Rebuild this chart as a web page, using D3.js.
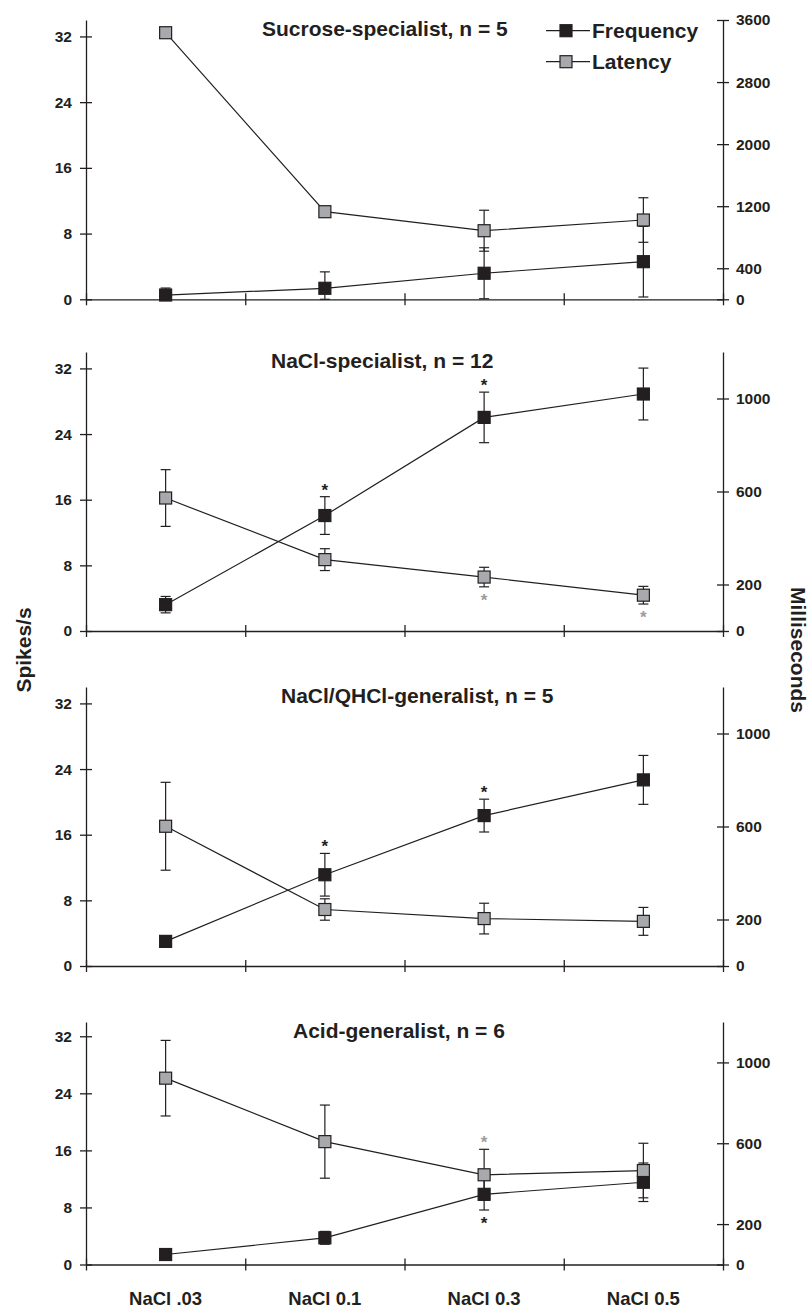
<!DOCTYPE html>
<html>
<head>
<meta charset="utf-8">
<script src="https://cdn.jsdelivr.net/npm/d3@7"></script>
<style>
  body { margin: 0; background: #fff; }
  text { font-family: "Liberation Sans", Arial, Helvetica, sans-serif; font-weight: bold; fill: #231f20; }
  .axis text { font-size: 15.5px; }
  .axis path, .axis line { stroke: #231f20; stroke-width: 1.3; }
</style>
</head>
<body>
<div id="chart"></div>
<script>
const categories = ["NaCl .03", "NaCl 0.1", "NaCl 0.3", "NaCl 0.5"];
const panelTitles = ["Sucrose-specialist, n = 5", "NaCl-specialist, n = 12", "NaCl/QHCl-generalist, n = 5", "Acid-generalist, n = 6"];

// spikes/s, mean and error per panel
const freqMean = [[0.52, 1.34, 3.17, 4.58], [3.21, 14.07, 26.03, 28.88], [3.0, 11.12, 18.33, 22.68], [1.4, 3.74, 9.84, 11.53]];
const freqErr  = [[0.85, 2.0, 3.1, 4.3], [1.0, 2.3, 3.08, 3.16], [0, 2.6, 2.0, 2.98], [0, 0.9, 2.2, 2.7]];
// milliseconds
const latMean = [[3436, 1129, 884, 1022], [572, 307, 232, 154], [601, 243, 204, 192], [922, 608, 444, 465]];
const latErr  = [[0, 0, 264, 287], [122, 47, 42, 38], [189, 46, 66, 60], [187, 181, 126, 135]];

// significance: 1 = star above bar, -1 = star below bar
const freqStar = [[0, 0, 0, 0], [0, 1, 1, 0], [0, 1, 1, 0], [0, 0, -1, 0]];
const latStar  = [[0, 0, 0, 0], [0, 0, -1, -1], [0, 0, 0, 0], [0, 0, 1, 0]];

const freqMax = 34;
const freqTicks = [0, 8, 16, 24, 32];
const latMax = [3600, 1200, 1200, 1200];
const latTicks = [[0, 400, 1200, 2000, 2800, 3600], [0, 200, 600, 1000], [0, 200, 600, 1000], [0, 200, 600, 1000]];

const seriesNames = ["Frequency", "Latency"];

const black = "#231f20";
const gray = "#a7a9ac";
const starGray = "#9c9c9c";

const svg = d3.select("#chart").append("svg")
  .attr("width", 810)
  .attr("height", 1307);

const plotLeft = 86, plotRight = 723;
const panelTops = [20, 352, 687, 1022];
const panelHeights = [279.3, 279, 279, 242.5];
const titleLeft = [262, 271, 281, 293];

const xBand = d3.scaleBand().domain(categories).range([plotLeft, plotRight]);
const xEdge = d3.scaleLinear().domain([0, categories.length]).range([plotLeft, plotRight]);
const cx = function (c) { return xBand(c) + xBand.bandwidth() / 2; };
const plain = d3.format("d");

panelTitles.forEach(function (title, p) {
  const top = panelTops[p];
  const bottom = top + panelHeights[p];
  const yFreq = d3.scaleLinear().domain([0, freqMax]).range([bottom, top]);
  const yLat = d3.scaleLinear().domain([0, latMax[p]]).range([bottom, top]);
  const g = svg.append("g");

  // axes
  const xAxisG = g.append("g")
    .attr("class", "axis")
    .attr("transform", "translate(0," + bottom + ")")
    .call(d3.axisBottom(xEdge).tickValues(d3.range(categories.length + 1)).tickFormat("").tickSize(6).tickSizeOuter(0));
  xAxisG.selectAll(".tick line").attr("y1", -6);

  const leftG = g.append("g")
    .attr("class", "axis")
    .attr("transform", "translate(" + plotLeft + ",0)")
    .call(d3.axisLeft(yFreq).tickValues(freqTicks).tickFormat(plain).tickSize(6).tickPadding(8).tickSizeOuter(0));
  leftG.selectAll(".tick line").attr("x1", 6);

  const rightG = g.append("g")
    .attr("class", "axis")
    .attr("transform", "translate(" + plotRight + ",0)")
    .call(d3.axisRight(yLat).tickValues(latTicks[p]).tickFormat(plain).tickSize(6).tickPadding(7).tickSizeOuter(0));
  rightG.selectAll(".tick line").attr("x1", -6);

  g.append("text")
    .attr("x", titleLeft[p])
    .attr("y", top + 15.5)
    .attr("font-size", "21px")
    .text(title);

  const series = [
    { means: freqMean[p], errs: freqErr[p], stars: freqStar[p], y: yFreq, fill: black, starColor: black },
    { means: latMean[p], errs: latErr[p], stars: latStar[p], y: yLat, fill: gray, starColor: starGray }
  ];

  series.forEach(function (s) {
    const pts = categories.map(function (c, i) {
      return { x: cx(c), m: s.means[i], e: s.errs[i], star: s.stars[i] };
    });
    const withErr = pts.filter(function (d) { return d.e > 0; });
    const eg = g.append("g").attr("stroke", black).attr("stroke-width", 1.2);
    eg.selectAll(".bar").data(withErr).enter().append("line")
      .attr("x1", function (d) { return d.x; })
      .attr("x2", function (d) { return d.x; })
      .attr("y1", function (d) { return s.y(Math.max(0, d.m - d.e)); })
      .attr("y2", function (d) { return s.y(d.m + d.e); });
    eg.selectAll(".capTop").data(withErr).enter().append("line")
      .attr("x1", function (d) { return d.x - 5; })
      .attr("x2", function (d) { return d.x + 5; })
      .attr("y1", function (d) { return s.y(d.m + d.e); })
      .attr("y2", function (d) { return s.y(d.m + d.e); });
    eg.selectAll(".capBot").data(withErr).enter().append("line")
      .attr("x1", function (d) { return d.x - 5; })
      .attr("x2", function (d) { return d.x + 5; })
      .attr("y1", function (d) { return s.y(Math.max(0, d.m - d.e)); })
      .attr("y2", function (d) { return s.y(Math.max(0, d.m - d.e)); });

    g.selectAll(".star").data(pts.filter(function (d) { return d.star !== 0; })).enter().append("text")
      .attr("x", function (d) { return d.x; })
      .attr("y", function (d) { return d.star > 0 ? s.y(d.m + d.e) - 1 : s.y(d.m - d.e) + 19; })
      .attr("text-anchor", "middle")
      .attr("font-size", "17px")
      .style("fill", s.starColor)
      .text("*");

    s.pts = pts;
  });

  const line = d3.line().x(function (d) { return d.x; }).y(function (d) { return d.py; });
  series.forEach(function (s) {
    s.pts.forEach(function (d) { d.py = s.y(d.m); });
    g.append("path")
      .attr("fill", "none")
      .attr("stroke", black)
      .attr("stroke-width", 1.2)
      .attr("d", line(s.pts));
  });

  series.forEach(function (s) {
    g.selectAll(".dot").data(s.pts).enter().append("rect")
      .attr("x", function (d) { return d.x - 6; })
      .attr("y", function (d) { return d.py - 6; })
      .attr("width", 12)
      .attr("height", 12)
      .attr("fill", s.fill)
      .attr("stroke", black)
      .attr("stroke-width", 1.2);
  });
});

// legend in first panel
const legend = svg.append("g")
  .selectAll("g")
  .data(seriesNames)
  .enter().append("g")
    .attr("transform", function (d, i) { return "translate(546," + (30.7 + i * 31) + ")"; });
legend.append("line")
  .attr("x1", 0).attr("x2", 44)
  .attr("stroke", black).attr("stroke-width", 1.2);
legend.append("rect")
  .attr("x", 14).attr("y", -6).attr("width", 12).attr("height", 12)
  .attr("fill", function (d, i) { return i === 0 ? black : gray; })
  .attr("stroke", black).attr("stroke-width", 1.2);
legend.append("text")
  .attr("x", 46)
  .attr("y", 7)
  .attr("font-size", "21px")
  .text(function (d) { return d; });

// category labels under the last panel
const lastBottom = panelTops[3] + panelHeights[3];
svg.append("g")
  .selectAll("text")
  .data(categories)
  .enter().append("text")
    .attr("x", cx)
    .attr("y", lastBottom + 40)
    .attr("text-anchor", "middle")
    .attr("font-size", "18.5px")
    .text(function (d) { return d; });

svg.append("text")
  .attr("transform", "translate(31,650) rotate(-90)")
  .attr("text-anchor", "middle")
  .attr("font-size", "21px")
  .text("Spikes/s");

svg.append("text")
  .attr("transform", "translate(791,650) rotate(90)")
  .attr("text-anchor", "middle")
  .attr("font-size", "21px")
  .text("Milliseconds");
</script>
</body>
</html>
